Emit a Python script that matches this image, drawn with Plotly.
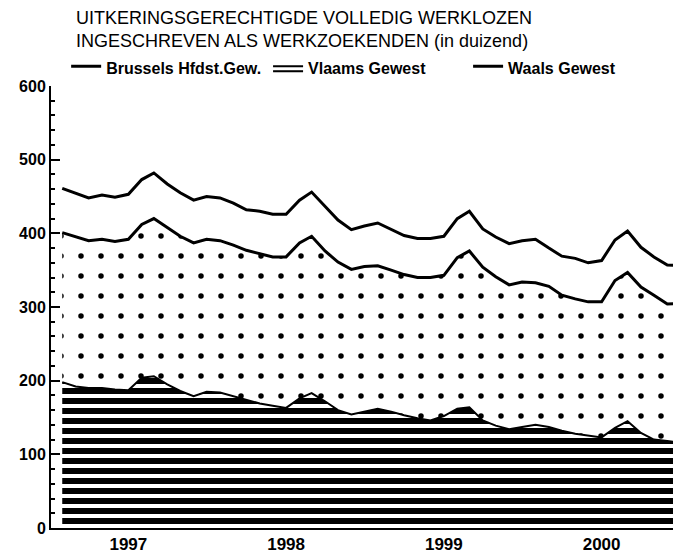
import pandas as pd
import plotly.graph_objects as go

# Monthly observations, Aug 1996 - Jul 2000 (thousands)
months = pd.date_range("1996-08-01", periods=48, freq="MS")

vlaams = [198, 192, 190, 190, 188, 187, 204, 206, 195, 186, 179, 185,
          184, 179, 174, 169, 166, 163, 176, 183, 172, 160, 154, 158,
          162, 158, 153, 149, 146, 152, 162, 164, 146, 139, 134, 137,
          140, 137, 132, 128, 126, 123, 136, 145, 129, 120, 118, 116]

waals = [203, 203, 200, 202, 201, 205, 208, 214, 213, 210, 208, 207,
         206, 205, 203, 203, 202, 205, 211, 213, 204, 201, 197, 197,
         194, 192, 191, 191, 194, 191, 205, 212, 208, 202, 196, 197,
         193, 191, 184, 183, 181, 184, 200, 202, 198, 196, 186, 189]

brussel = [60, 59, 58, 60, 60, 61, 61, 62, 59, 59, 58, 58,
           58, 57, 55, 58, 58, 58, 58, 60, 60, 57, 54, 55,
           58, 55, 53, 53, 53, 53, 53, 54, 52, 54, 56, 56,
           59, 52, 53, 55, 53, 56, 55, 56, 54, 52, 53, 51]

year_ticks = ["1997-01-01", "1998-01-01", "1999-01-01", "2000-01-01"]
year_labels = ["1997", "1998", "1999", "2000"]

title_lines = ["UITKERINGSGERECHTIGDE VOLLEDIG WERKLOZEN",
               "INGESCHREVEN ALS WERKZOEKENDEN (in duizend)"]

FONT = "Liberation Sans, Arial, Helvetica, sans-serif"

fig = go.Figure()

fig.add_trace(go.Scatter(
    x=months, y=vlaams, name="Vlaams Gewest", stackgroup="one",
    mode="lines", line=dict(color="black", width=2),
    fillcolor="white",
    fillpattern=dict(shape="-", fgcolor="black", bgcolor="white",
                     fgopacity=1, size=10, solidity=0.6, fillmode="replace"),
    legend="legend2", showlegend=True,
))
fig.add_trace(go.Scatter(
    x=months, y=waals, name="Waals Gewest", stackgroup="one",
    mode="lines", line=dict(color="black", width=3),
    fillcolor="white",
    fillpattern=dict(shape=".", fgcolor="black", bgcolor="white",
                     fgopacity=1, size=20, solidity=0.06, fillmode="replace"),
    legend="legend3", showlegend=True,
))
fig.add_trace(go.Scatter(
    x=months, y=brussel, name="Brussels Hfdst.Gew.", stackgroup="one",
    mode="lines", line=dict(color="black", width=3),
    fillcolor="white",
    legend="legend", showlegend=True,
))

legend_common = dict(orientation="h", yanchor="middle", y=1.04,
                     xanchor="left", bgcolor="rgba(0,0,0,0)",
                     font=dict(family=FONT, size=16, color="black", weight="bold"))

fig.update_layout(
    width=681, height=553,
    margin=dict(l=43, r=7, t=78, b=20),
    paper_bgcolor="white", plot_bgcolor="white",
    font=dict(family=FONT, color="black"),
    showlegend=True,
    legend=dict(x=0.024, **legend_common),
    legend2=dict(x=0.344, **legend_common),
    legend3=dict(x=0.661, **legend_common),
    xaxis=dict(
        range=["1996-07-06", "2000-07-05"],
        showline=True, linecolor="black", linewidth=2,
        showgrid=False, zeroline=False,
        tickvals=year_ticks, ticktext=year_labels, ticks="",
        tickfont=dict(family=FONT, size=17, color="black", weight="bold"),
    ),
    yaxis=dict(
        range=[0, 600],
        showline=True, linecolor="black", linewidth=2,
        showgrid=False, zeroline=False,
        dtick=100, ticks="inside", ticklen=9, tickwidth=2, tickcolor="black",
        minor=dict(ticks="inside", ticklen=4, tickwidth=1.5, dtick=20,
                   tickcolor="black", showgrid=False),
        tickfont=dict(family=FONT, size=16, color="black", weight="bold"),
    ),
    annotations=[
        dict(xref="paper", yref="paper", x=0.036, y=1.18,
             xanchor="left", yanchor="top", align="left", showarrow=False,
             text="<br>".join(title_lines),
             font=dict(family=FONT, size=18, color="black")),
    ],
)

fig.write_html("out.html")
